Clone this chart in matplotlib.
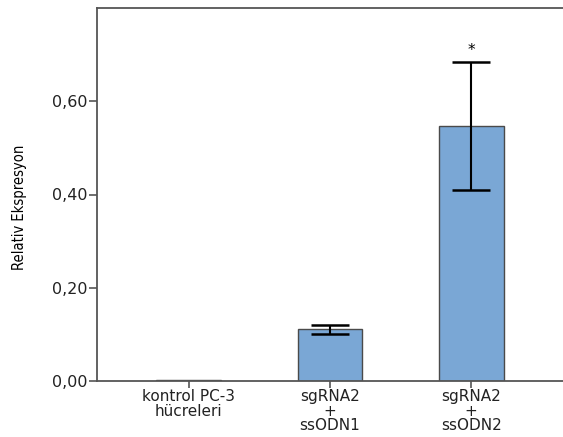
import matplotlib
matplotlib.use("Agg")
import matplotlib.pyplot as plt
from matplotlib.ticker import FixedLocator

# data
categories = ["kontrol PC-3\nhücreleri", "sgRNA2\n+\nssODN1", "sgRNA2\n+\nssODN2"]
means = [0.003, 0.111, 0.546]
err_low = [0.0, 0.010, 0.137]
err_high = [0.0, 0.009, 0.138]
yticks = [0.0, 0.2, 0.4, 0.6]
ytick_labels = ["0,00", "0,20", "0,40", "0,60"]

fig = plt.figure(figsize=(5.63, 4.37), dpi=100)
ax = fig.add_axes([97 / 563, 56 / 437, 466 / 563, 373 / 437])

x = list(range(len(categories)))
ax.bar(x, means, width=0.46, color="#7aa7d5", edgecolor="#4a4a4a", linewidth=1.0)

# error bars only where there is spread
ex = [i for i in x if err_low[i] > 0]
ax.errorbar(ex, [means[i] for i in ex],
            yerr=[[err_low[i] for i in ex], [err_high[i] for i in ex]],
            fmt="none", ecolor="black", elinewidth=1.5, capsize=14, capthick=1.8)

ax.text(2, means[2] + err_high[2] + 0.008, "*", ha="center", va="bottom", fontsize=11)

ax.set_xlim(-0.65, 2.65)
ax.set_ylim(0, 0.8)
ax.yaxis.set_major_locator(FixedLocator(yticks))
ax.set_yticklabels(ytick_labels, fontsize=11.5, color="#222222")
ax.set_xticks(x)
ax.set_xticklabels(categories, fontsize=11, linespacing=0.95, color="#222222")

for s in ["left", "bottom", "top"]:
    ax.spines[s].set_color("#555555")
    ax.spines[s].set_linewidth(1.3)
ax.spines["right"].set_visible(False)
ax.tick_params(axis="y", length=6, width=1.2, color="#555555", pad=1)
ax.tick_params(axis="x", length=5, width=1.2, color="#555555", pad=1)

ax.set_ylabel("Relativ Ekspresyon", fontsize=10.5, family="DejaVu Sans",
              stretch="condensed")
ax.yaxis.set_label_coords(-0.15, 0.466)

fig.savefig("out.png", dpi=100)
